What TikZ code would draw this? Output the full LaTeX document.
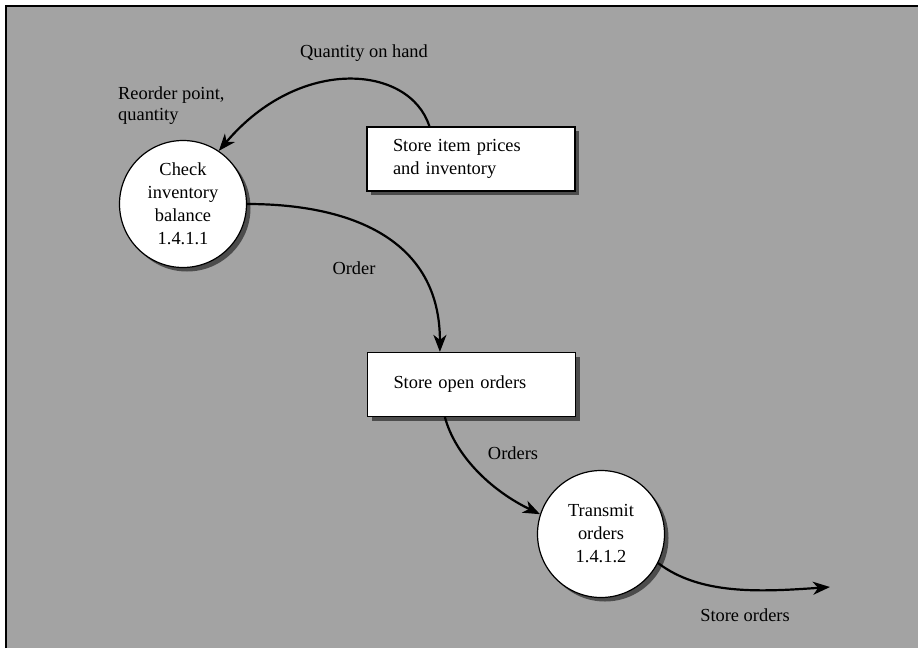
\documentclass[tikz,border=0pt]{standalone}
\usepackage{fontspec}
\setmainfont{Liberation Serif}
\usetikzlibrary{arrows.meta,shadows,calc}
\begin{document}
\begin{tikzpicture}[x=1pt,y=-1pt,
  txt/.style={font=\fontsize{18.4}{23}\selectfont},
  dshadow/.style={drop shadow={shadow xshift=4pt,shadow yshift=-4pt,fill=black!70,opacity=1}},
  proc/.style={circle, draw=black, line width=1.2pt, fill=white, minimum size=127pt, inner sep=0pt, align=center, txt, dshadow},
  storebox/.style={rectangle, draw=black, line width=1.2pt, fill=white, minimum height=64pt, text width=156pt, inner xsep=26pt, inner ysep=0pt, align=left, txt, dshadow},
  flow/.style={line width=2.2pt, -{Stealth[length=17pt,width=13pt,inset=5pt]}},
  lbl/.style={txt, inner sep=0pt, align=left}
]
\useasboundingbox (0,0) rectangle (918,651);
\fill[white] (0,0) rectangle (918,651);
\fill[black!36] (6,6) rectangle (918,648);
\draw[line width=1.4pt] (6,648) -- (6,6) -- (918,6);

\node[proc] (c1) at (183,204) {Check\\inventory\\balance\\1.4.1.1};
\node[storebox] (s1) at (471,159) {Store item prices\\and inventory};
\node[storebox] (s2) at (471.5,384.5) {Store open orders};
\node[proc] (c2) at (601,534) {Transmit\\orders\\1.4.1.2};
\coordinate (out) at (830,587);

\draw[flow] ($(s1.north west)+(63,0)$) .. controls (410,65) and (300,55) .. (c1.56);
\draw[flow] (c1.east) .. controls (352,204) and (440,240) .. ($(s2.north west)+(73,0)$);
\draw[flow] ($(s2.south west)+(78,0)$) .. controls (455,455) and (490,490) .. (c2.162);
\draw[flow] (c2.-27) .. controls (700,595) and (760,592) .. (out);

\node[lbl] (l1) at (364,53) {Quantity on hand};
\node[lbl, anchor=west, font=\fontsize{18.4}{21}\selectfont] (l2) at (118,106) {Reorder point,\\quantity};
\node[lbl] (l3) at (354,268) {Order};
\node[lbl] (l4) at (513,453) {Orders};
\node[lbl] (l5) at (745,615) {Store orders};
\end{tikzpicture}
\end{document}
